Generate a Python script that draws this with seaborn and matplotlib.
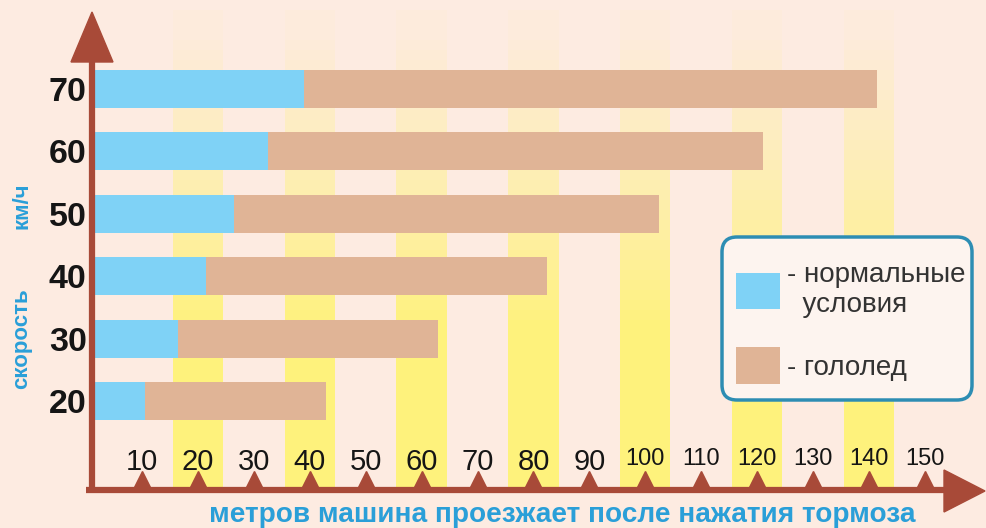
import numpy as np
import pandas as pd
import matplotlib
matplotlib.use("Agg")
import matplotlib.pyplot as plt
import seaborn as sns
from matplotlib import font_manager, transforms
from matplotlib.patches import Polygon, Patch, FancyBboxPatch
from matplotlib.lines import Line2D
from matplotlib.font_manager import FontProperties

# ---- data ----
speeds = ["70", "60", "50", "40", "30", "20"]
normal = [39, 32.5, 26.5, 21.5, 16.5, 10.5]
ice = [141.5, 121, 102.5, 82.5, 63, 43]
xticks = [10, 20, 30, 40, 50, 60, 70, 80, 90, 100, 110, 120, 130, 140, 150]
stripe_ticks = [20, 40, 60, 80, 100, 120, 140]
legend_labels = ["- нормальные\n  условия", "- гололед"]
xlabel = "метров машина проезжает после нажатия тормоза"
ylabel_a = "скорость"
ylabel_b = "км/ч"

df = pd.DataFrame({"speed": speeds, "normal": normal, "ice": ice})

# ---- style ----
BG = "#fdebe1"
YEL = "#fff36e"
BLUE = "#7fd2f6"
BROWN = "#e0b496"
AXC = "#a84a38"
TXTBLUE = "#2a9fd8"

plt.rcParams["font.family"] = ["Liberation Sans", "DejaVu Sans"]
names = {f.name for f in font_manager.fontManager.ttflist}
narrow = "Liberation Sans Narrow" if "Liberation Sans Narrow" in names else None

W, H = 986, 528
fig = plt.figure(figsize=(W / 100, H / 100), dpi=100, facecolor=BG)

def fx(x):
    return x / W

def fy(y):
    return 1 - y / H

ax_l, ax_r, ax_b, ax_t = 95, 985, 490, 10
ax = fig.add_axes([fx(ax_l), fy(ax_b), (ax_r - ax_l) / W, (ax_b - ax_t) / H])
ax.set_facecolor(BG)

# scale: 0 m at pixel 86, 5.593 px per metre
x0, ppm = 86, 5.593
xlim = ((ax_l - x0) / ppm, (ax_r - x0) / ppm)
c0, pitch = 89, 62.4
ylim = ((ax_b - c0) / pitch, (ax_t - c0) / pitch)

# yellow stripes, fading towards the top
N = 48
for t in stripe_ticks:
    for k in range(N):
        f = (k + 0.5) / N
        a = 0.88 - 0.84 * min(1.0, max(0.0, (f - 0.35) / 0.6)) ** 0.8
        ax.axvspan(t - 4.5, t + 4.5, ymin=k / N, ymax=(k + 1) / N,
                   color=YEL, alpha=a, lw=0, zorder=0)

sns.barplot(data=df, x="ice", y="speed", order=speeds, orient="h",
            color=BROWN, saturation=1, width=0.61, ax=ax, zorder=2)
sns.barplot(data=df, x="normal", y="speed", order=speeds, orient="h",
            color=BLUE, saturation=1, width=0.61, ax=ax, zorder=3)
ax.set_xlim(*xlim)
ax.set_ylim(*ylim)

ax.set_xlabel("")
ax.set_ylabel("")
for s in ax.spines.values():
    s.set_visible(False)

# y tick labels
ax.tick_params(axis="y", length=0, pad=6)
for lab in ax.get_yticklabels():
    lab.set_fontsize(24.5)
    lab.set_fontweight("bold")
    lab.set_color("#151515")

# x tick labels inside, above the axis
ax.set_xticks(xticks)
ax.set_xticklabels([str(v) for v in xticks])
ax.tick_params(axis="x", length=0, pad=-30)
for lab, v in zip(ax.get_xticklabels(), xticks):
    lab.set_color("#151515")
    if v >= 100:
        if narrow:
            lab.set_fontfamily(narrow)
            lab.set_fontsize(19)
        else:
            lab.set_fontsize(17)
    else:
        lab.set_fontsize(21)

# tick triangles
trans = transforms.blended_transform_factory(ax.transData, ax.transAxes) + \
    transforms.ScaledTranslation(0, 11 / 100, fig.dpi_scale_trans)
ax.plot(xticks, [0] * len(xticks), linestyle="none", marker="^", ms=12,
        color=AXC, mec=AXC, transform=trans, clip_on=False, zorder=5)

# axis arrows
fig.add_artist(Line2D([fx(92), fx(92)], [fy(493), fy(55)], lw=4.5, color=AXC,
                      solid_capstyle="butt", transform=fig.transFigure))
fig.add_artist(Polygon([(fx(71), fy(62)), (fx(113), fy(62)), (fx(92), fy(12))],
                       closed=True, color=AXC, transform=fig.transFigure))
fig.add_artist(Line2D([fx(86), fx(950)], [fy(490), fy(490)], lw=4.5, color=AXC,
                      solid_capstyle="butt", transform=fig.transFigure))
fig.add_artist(Polygon([(fx(944), fy(470)), (fx(944), fy(512)), (fx(985), fy(491))],
                       closed=True, color=AXC, transform=fig.transFigure))

# axis titles
fig.text(fx(562), fy(515), xlabel, ha="center", va="center", fontsize=20.2,
         fontweight="bold", color=TXTBLUE)
fig.text(fx(22), fy(339), ylabel_a, ha="center", va="center", rotation=90,
         fontsize=16, fontweight="bold", color=TXTBLUE)
fig.text(fx(22), fy(206), ylabel_b, ha="center", va="center", rotation=90,
         fontsize=16, fontweight="bold", color=TXTBLUE)

# legend frame (rounded box) drawn in inches, inside the axes so the legend sits on top
box = FancyBboxPatch((7.22, (H - 400) / 100), 2.50, 1.63,
                     boxstyle="round,pad=0,rounding_size=0.15",
                     transform=fig.dpi_scale_trans, facecolor="#fdf4ef",
                     edgecolor="#2d8db3", linewidth=2.5, zorder=9, clip_on=False)
ax.add_patch(box)

handles = [Patch(facecolor=BLUE, edgecolor="none"), Patch(facecolor=BROWN, edgecolor="none")]
leg = ax.legend(handles, legend_labels, loc="upper left",
                bbox_to_anchor=(fx(736), fy(262)), bbox_transform=fig.transFigure,
                prop=FontProperties(family=narrow or "Liberation Sans", size=22 if narrow else 20),
                handlelength=1.6, handleheight=1.65, handletextpad=0.25,
                labelspacing=1.05, borderpad=0, borderaxespad=0,
                frameon=False)
for t in leg.get_texts():
    t.set_color("#333333")
leg.set_zorder(10)

fig.savefig("out.png", dpi=100, facecolor=BG)
